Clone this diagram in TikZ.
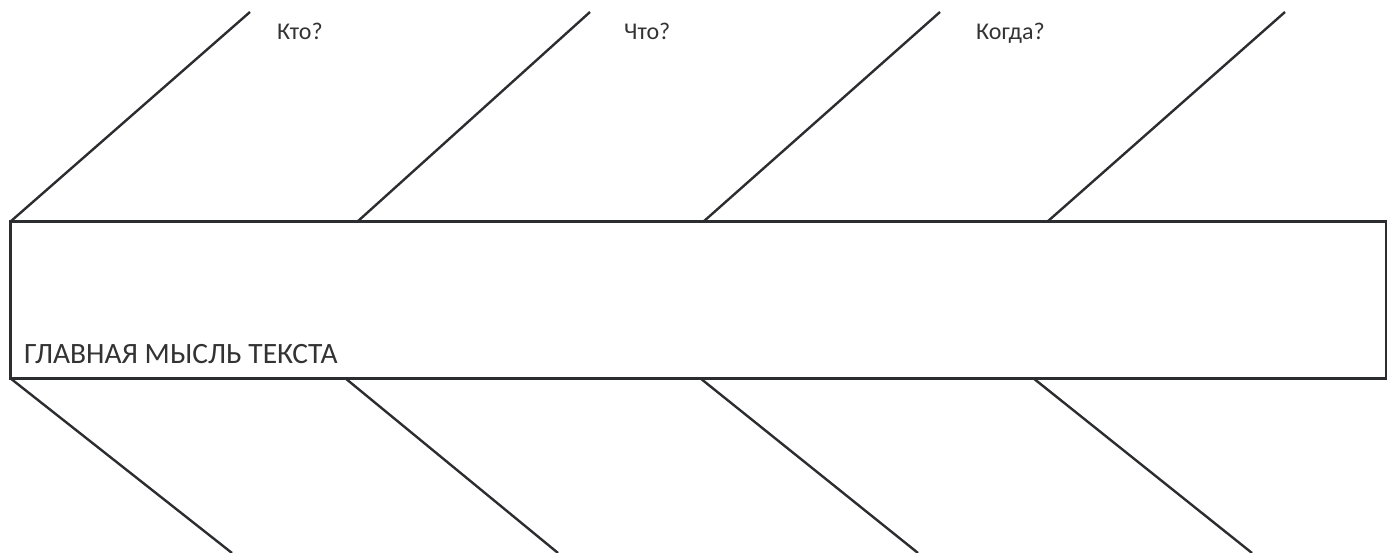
\documentclass[tikz,border=0pt]{standalone}
\usepackage{fontspec}
\setmainfont{Carlito}
\definecolor{bonegray}{HTML}{2B2D30}
\definecolor{textgray}{HTML}{333333}
\begin{document}
\begin{tikzpicture}[x=1pt, y=-1pt, bone/.style={draw=bonegray, line width=2.4pt},
    lbl/.style={font=\fontsize{24}{27}\selectfont, text=textgray, inner sep=0pt, anchor=west}]
  \useasboundingbox (0,0) rectangle (1387,553);
  \node[draw=bonegray, line width=3pt, outer sep=0pt, inner sep=0pt, anchor=north west,
        minimum width=1376pt, minimum height=156pt] (spine) at (10,222) {};
  % upper bones
  \coordinate (u1) at (250,12);
  \coordinate (u2) at (590,12);
  \coordinate (u3) at (940,12);
  \coordinate (u4) at (1285,12);
  \coordinate (s1) at (10,222);
  \coordinate (s2) at (357,222);
  \coordinate (s3) at (703,222);
  \coordinate (s4) at (1047,222);
  \draw[bone] (s1) -- (u1);
  \draw[bone] (s2) -- (u2);
  \draw[bone] (s3) -- (u3);
  \draw[bone] (s4) -- (u4);
  % lower bones
  \coordinate (b1) at (10,378);
  \coordinate (b2) at (345,378);
  \coordinate (b3) at (700,378);
  \coordinate (b4) at (1033,378);
  \coordinate (l1) at (232,553);
  \coordinate (l2) at (558,553);
  \coordinate (l3) at (918,553);
  \coordinate (l4) at (1252,553);
  \draw[bone] (b1) -- (l1);
  \draw[bone] (b2) -- (l2);
  \draw[bone] (b3) -- (l3);
  \draw[bone] (b4) -- (l4);
  % labels
  \node[lbl] (kto) at (277,31) {Кто?};
  \node[lbl] (chto) at (624,31) {Что?};
  \node[lbl] (kogda) at (976,33) {Когда?};
  \node[lbl, font=\fontsize{29.5}{33}\selectfont] (idea) at (24,354) {ГЛАВНАЯ МЫСЛЬ ТЕКСТА};
\end{tikzpicture}
\end{document}
